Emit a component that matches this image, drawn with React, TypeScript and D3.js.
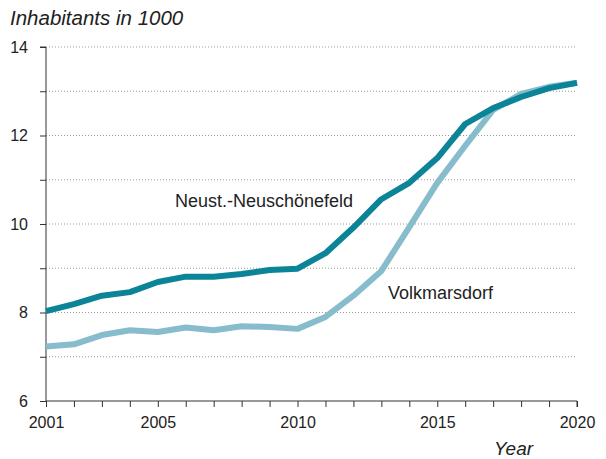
import React, { useEffect, useRef } from "react";
import * as d3 from "d3";

const years = d3.range(2001, 2021);
const neuschoenefeld = [8.03, 8.19, 8.38, 8.46, 8.69, 8.81, 8.81, 8.87, 8.96, 8.99, 9.34, 9.92, 10.56, 10.93, 11.49, 12.26, 12.62, 12.87, 13.07, 13.19];
const volkmarsdorf = [7.23, 7.28, 7.49, 7.6, 7.56, 7.66, 7.6, 7.69, 7.67, 7.63, 7.9, 8.38, 8.94, 9.93, 10.93, 11.77, 12.58, 12.94, 13.1, 13.19];
const yTickLabels = [6, 8, 10, 12, 14];
const xTickLabels = [2001, 2005, 2010, 2015, 2020];

const DARK = "#0b8497";
const LIGHT = "#86bccb";
const FONT = "'Liberation Sans', Arial, sans-serif";

const LineChart = () => {
  const ref = useRef<SVGSVGElement>(null);

  useEffect(() => {
    const svg = d3.select(ref.current);
    svg.selectAll("*").remove();

    const width = 606, height = 459;
    const margin = { top: 47, right: 29, bottom: 58, left: 46 };

    svg.attr("width", width).attr("height", height);

    const x = d3.scaleLinear().domain([2001, 2020]).range([margin.left, width - margin.right]);
    const y = d3.scaleLinear().domain([6, 14]).range([height - margin.bottom, margin.top]);

    // dotted gridlines
    svg.append("g")
      .selectAll("line")
      .data(d3.range(7, 15))
      .join("line")
      .attr("x1", margin.left)
      .attr("x2", width - margin.right)
      .attr("y1", (d) => y(d))
      .attr("y2", (d) => y(d))
      .attr("stroke", "#9a9a9a")
      .attr("stroke-width", 1)
      .attr("stroke-dasharray", "1,2");

    // y axis
    const yAxis = svg.append("g")
      .attr("transform", `translate(${margin.left},0)`)
      .call(d3.axisLeft(y).tickValues(d3.range(6, 15)).tickSize(6).tickFormat((d) => (yTickLabels.includes(+d) ? String(d) : "")));
    yAxis.select(".domain").attr("stroke", "#333").attr("d", `M-6,${y(14)}H0V${y(6)}`);
    yAxis.selectAll(".tick line").attr("stroke", "#333");
    yAxis.selectAll(".tick text")
      .attr("x", -18)
      .attr("dy", "0.34em")
      .attr("fill", "#222")
      .style("font-family", FONT)
      .style("font-size", "16px");

    // x axis
    const xAxis = svg.append("g")
      .attr("transform", `translate(0,${y(6)})`)
      .call(d3.axisBottom(x).tickValues(years).tickSize(6).tickFormat((d) => (xTickLabels.includes(+d) ? String(d) : "")));
    xAxis.select(".domain").attr("stroke", "#333").attr("d", `M${x(2001)},0H${x(2020)}V6`);
    xAxis.selectAll(".tick line").attr("stroke", "#333");
    xAxis.selectAll(".tick text")
      .attr("y", 27)
      .attr("dy", "0")
      .attr("fill", "#222")
      .style("font-family", FONT)
      .style("font-size", "16px");

    const line = d3.line<number>()
      .x((_, i) => x(years[i]))
      .y((d) => y(d));

    svg.append("path")
      .datum(volkmarsdorf)
      .attr("d", line)
      .attr("fill", "none")
      .attr("stroke", LIGHT)
      .attr("stroke-width", 6)
      .attr("stroke-linejoin", "round");

    svg.append("path")
      .datum(neuschoenefeld)
      .attr("d", line)
      .attr("fill", "none")
      .attr("stroke", DARK)
      .attr("stroke-width", 6)
      .attr("stroke-linejoin", "round");

    // series labels
    svg.append("text")
      .attr("x", 175)
      .attr("y", 207)
      .attr("fill", "#222")
      .style("font-family", FONT)
      .style("font-size", "18px")
      .text("Neust.-Neuschönefeld");

    svg.append("text")
      .attr("x", 388)
      .attr("y", 299)
      .attr("fill", "#222")
      .style("font-family", FONT)
      .style("font-size", "18px")
      .text("Volkmarsdorf");

    // titles
    svg.append("text")
      .attr("x", 10)
      .attr("y", 25)
      .attr("fill", "#222")
      .style("font-family", FONT)
      .style("font-size", "20.5px")
      .style("font-style", "italic")
      .text("Inhabitants in 1000");

    svg.append("text")
      .attr("x", 494)
      .attr("y", 455)
      .attr("fill", "#222")
      .style("font-family", FONT)
      .style("font-size", "19px")
      .style("font-style", "italic")
      .text("Year");
  }, []);

  return <svg ref={ref} style={{ position: "absolute", left: 0, top: 0, background: "#fff" }} />;
};

export default function App() {
  return <LineChart />;
}
